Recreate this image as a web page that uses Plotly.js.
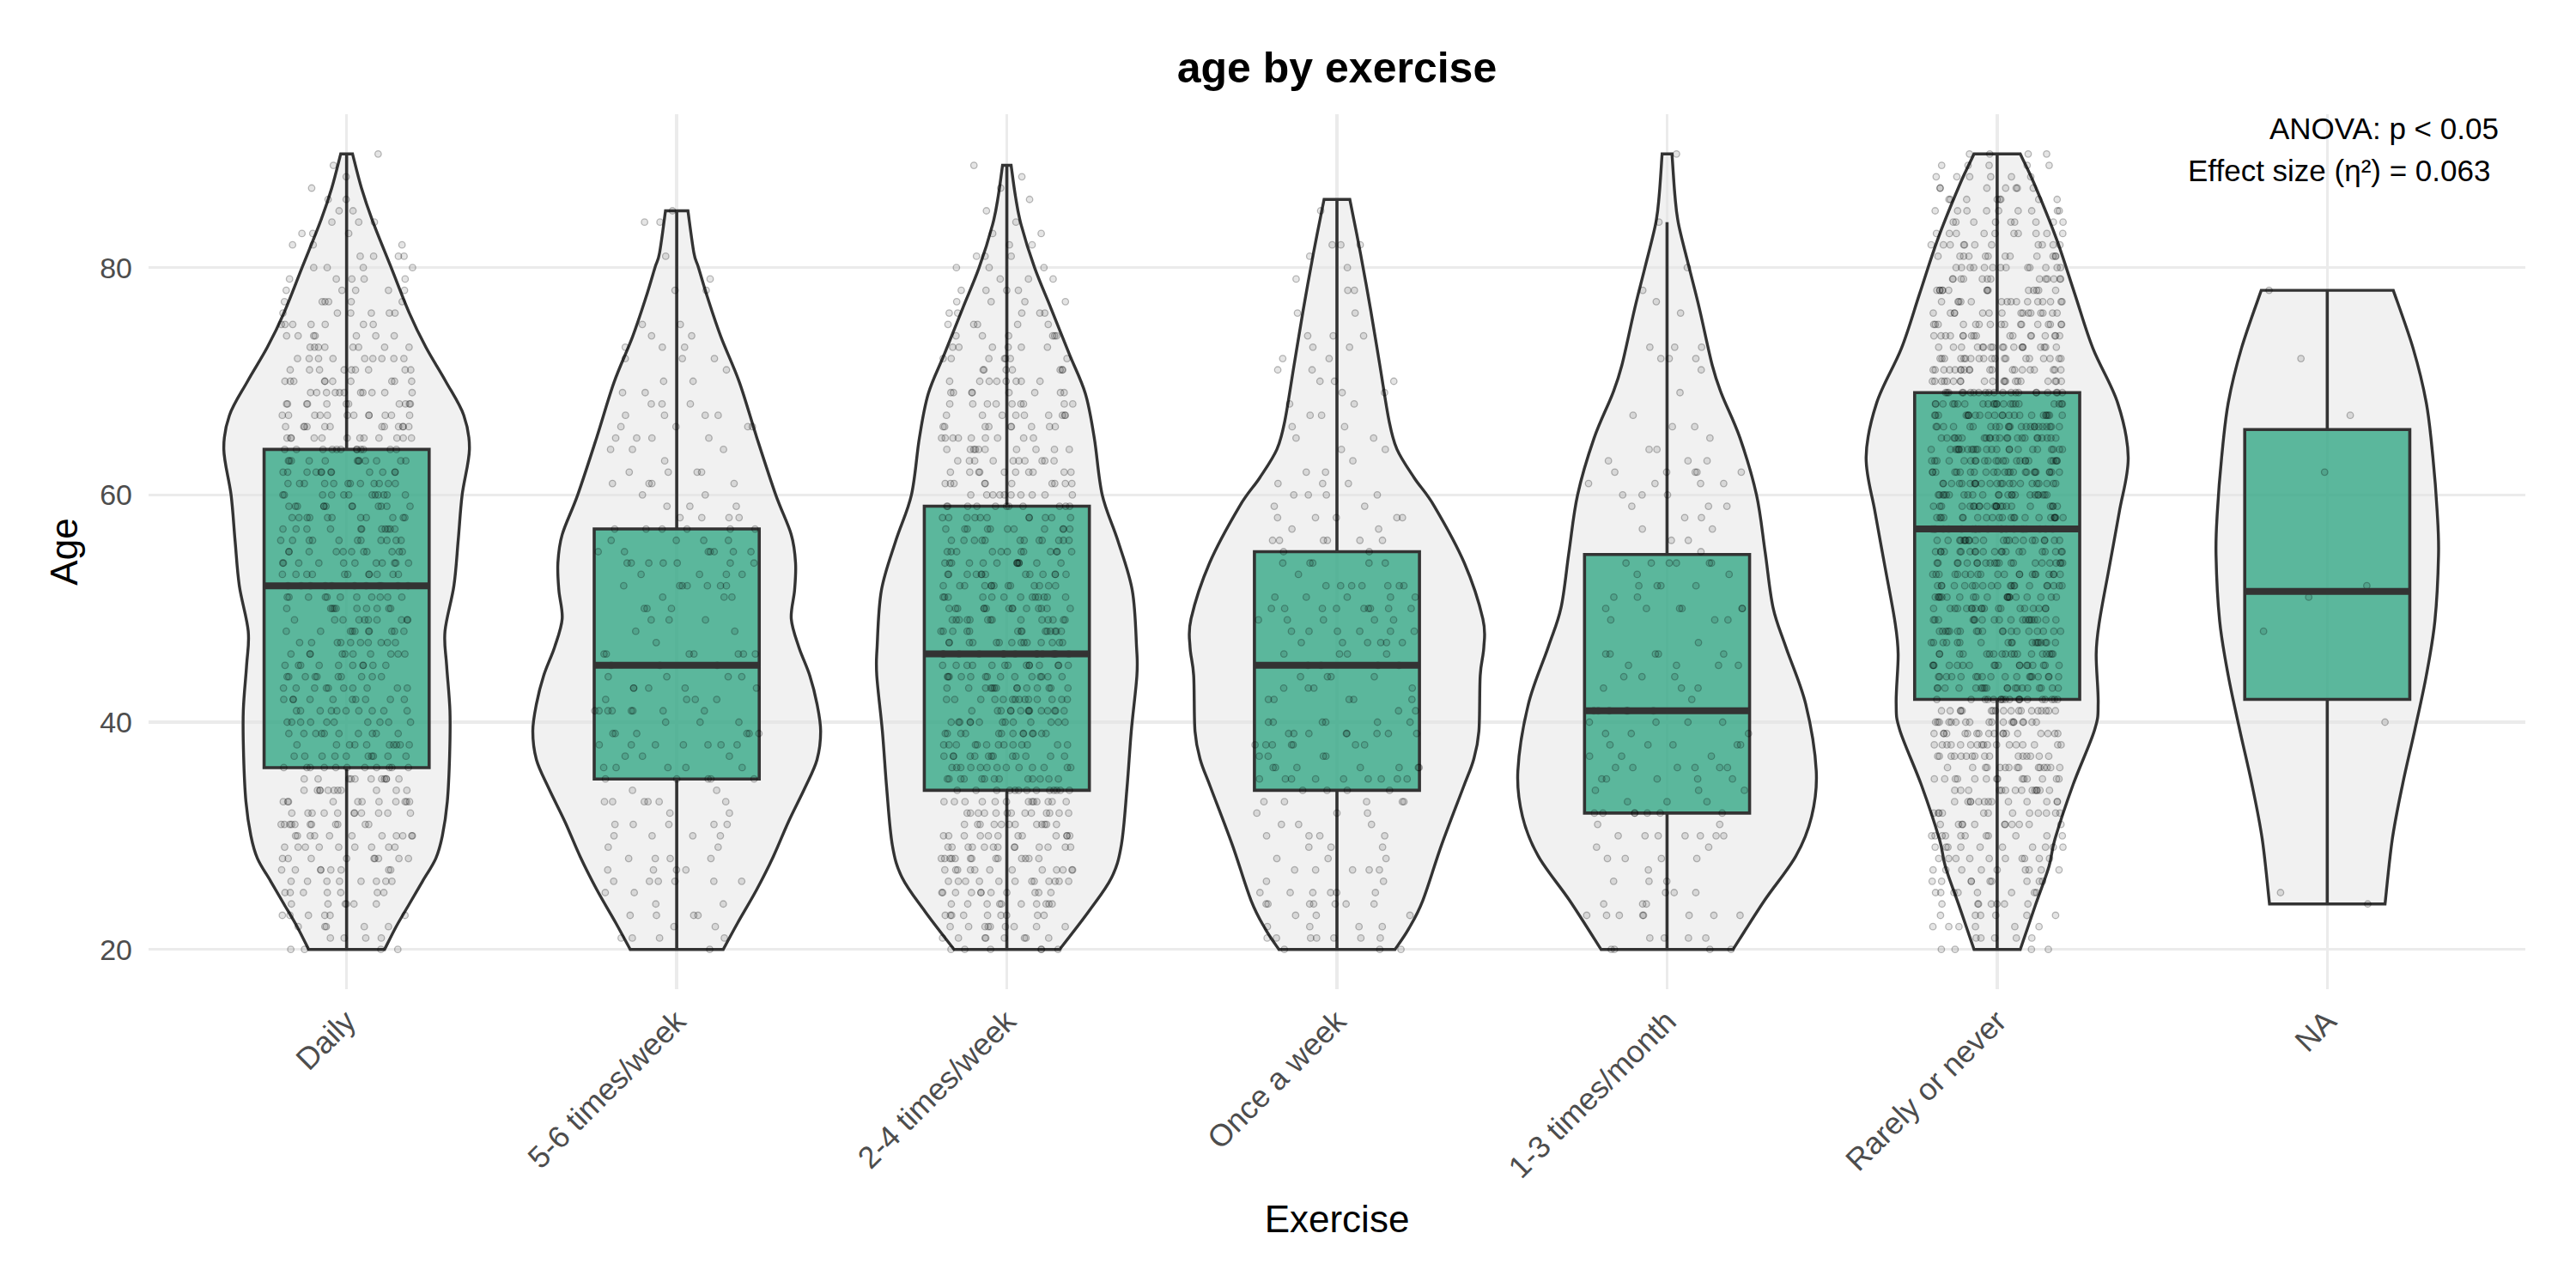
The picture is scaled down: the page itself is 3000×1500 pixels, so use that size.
<!DOCTYPE html>
<html>
<head>
<meta charset="utf-8">
<script src="https://cdn.plot.ly/plotly-3.0.1.min.js"></script>
<style>html,body{margin:0;padding:0;background:#fff;}#chart{width:3000px;height:1500px;}</style>
</head>
<body>
<div id="chart"></div>
<script>
// ---------- data ----------
const categories = ["Daily", "5-6 times/week", "2-4 times/week", "Once a week", "1-3 times/month", "Rarely or never", "NA"];

// box statistics per category (age)
const lowerWhisker = [20, 20, 20, 20, 20, 20, 24];
const q1Values     = [36, 35, 34, 34, 32, 42, 42];
const medianValues = [52, 45, 46, 45, 41, 57, 51.5];
const q3Values     = [64, 57, 59, 55, 54.75, 69, 65.75];
const upperWhisker = [90, 85, 89, 86, 84, 90, 78];

// violin outlines: ages and half-widths (in category units)
const violinAgesDaily = [20, 22, 24, 26, 28, 30, 33, 37, 41, 45, 48, 52, 56, 60, 64, 67, 70, 73, 76, 80, 84, 87, 90];
const violinHalfDaily = [0.115, 0.15, 0.19, 0.23, 0.27, 0.29, 0.305, 0.312, 0.313, 0.303, 0.298, 0.325, 0.338, 0.35, 0.372, 0.355, 0.3, 0.24, 0.19, 0.135, 0.08, 0.045, 0.018];
const violinAges56 = [20, 22.3, 25.3, 28.2, 31.2, 34.2, 36.7, 39.2, 41.6, 44.1, 46.6, 49.1, 51.6, 54, 56.5, 60, 65, 69.9, 73.9, 77.4, 80, 81.3, 85];
const violinHalf56 = [0.141, 0.184, 0.243, 0.293, 0.338, 0.388, 0.425, 0.436, 0.425, 0.403, 0.37, 0.347, 0.357, 0.36, 0.347, 0.3, 0.243, 0.19, 0.134, 0.093, 0.066, 0.052, 0.034];
const violinAges24 = [20, 23.3, 26.3, 29.2, 34.2, 39.2, 44.1, 46.6, 51.6, 56, 60, 65, 68.9, 72.4, 76.4, 80, 83.8, 86.3, 89];
const violinHalf24 = [0.16, 0.247, 0.317, 0.347, 0.364, 0.377, 0.394, 0.393, 0.38, 0.336, 0.289, 0.265, 0.238, 0.189, 0.134, 0.084, 0.043, 0.026, 0.013];
const violinAgesOnce = [20, 21.8, 24.3, 29.2, 34.2, 36.7, 39.2, 44.1, 46.6, 49.1, 54, 59, 61.5, 64, 66.5, 71.4, 76.3, 81.3, 86];
const violinHalfOnce = [0.176, 0.217, 0.26, 0.317, 0.382, 0.414, 0.43, 0.434, 0.445, 0.442, 0.386, 0.295, 0.234, 0.182, 0.158, 0.13, 0.102, 0.071, 0.039];
const violinAges13 = [20, 24.3, 28.2, 31.7, 35.7, 41.6, 46.6, 50.1, 55, 60, 65, 68.9, 71.4, 76.4, 80, 83.8, 86.3, 90];
const violinHalf13 = [0.2, 0.295, 0.39, 0.438, 0.452, 0.42, 0.36, 0.321, 0.297, 0.271, 0.221, 0.165, 0.137, 0.098, 0.067, 0.035, 0.024, 0.015];
const violinAgesRarely = [20, 23.9, 27.3, 29.7, 34.5, 39.3, 41.7, 46, 48.9, 53.7, 58.5, 63.3, 68.1, 72.9, 77.7, 82.5, 87.4, 90];
const violinHalfRarely = [0.07, 0.116, 0.157, 0.175, 0.23, 0.295, 0.306, 0.3, 0.31, 0.34, 0.37, 0.397, 0.365, 0.29, 0.235, 0.18, 0.112, 0.07];
const violinAgesNA = [24, 29.7, 34.5, 39.3, 44.1, 48.9, 54.7, 58.5, 63.3, 68.1, 72.9, 78];
const violinHalfNA = [0.175, 0.197, 0.228, 0.265, 0.3, 0.326, 0.337, 0.333, 0.32, 0.3, 0.26, 0.2];

// dense groups: estimated number of respondents at each age (20..90), read from point density
const countAges = [20,21,22,23,24,25,26,27,28,29,30,31,32,33,34,35,36,37,38,39,40,41,42,43,44,45,46,47,48,49,50,51,52,53,54,55,56,57,58,59,60,61,62,63,64,65,66,67,68,69,70,71,72,73,74,75,76,77,78,79,80,81,82,83,84,85,86,87,88,89,90];
const countsDaily  = [4,4,5,6,6,7,8,8,9,9, 11,11,11,11,11,11,11,10,10,10, 10,10,10,10,10,10,10,10,10,10, 10,11,11,11,11,11,11,11,11,12, 12,12,12,12,12,12,12,12,11,11, 10,9,9,8,7,7,6,6,5,5, 4,4,3,3,3,2,2,1,1,1,1];
const counts24     = [6,8,9,9,10,11,12,12,13,13, 12,12,13,13,13,13,13,13,13,13, 13,14,14,14,14,14,14,14,14,14, 14,13,13,13,13,12,12,11,11,11, 10,10,10,10,10,9,9,9,9,8, 8,7,7,6,6,5,5,4,4,3, 3,3,2,2,1,1,1,1,1,1,0];
const countsRarely = [4,5,6,6,7,8,9,9,10,10, 11,11,12,13,14,14,15,16,17,18, 18,18,19,19,18,18,18,18,19,19, 19,20,20,20,21,21,22,22,22,23, 23,23,24,24,24,23,23,23,22,21, 20,20,19,18,17,16,15,15,14,13, 13,12,11,10,9,9,8,7,6,5,4];

// individual ages (jittered points)
const ages56 = [85,84,84,81,79,78,78,75,75,74,74,73,73,73,72,72,71,72,70,70,69,69,68,67,67,67,68,68,67,66,66,65,65,65,65,66,66,64,64,64,63,62,62,62,61,62,61,61,61,60,60,59,59,58,58,58,59,58,
57,57,57,57,57,57,56,55,55,55,55,56,56,56,55,54,54,54,55,54,54,55,54,54,53,53,53,52,52,52,52,52,53,52,51,52,51,51,50,50,50,49,49,49,48,48,47,46,46,46,46,46,46,46,
44,45,45,45,44,44,43,43,44,43,43,43,42,42,42,42,41,41,41,41,41,41,41,41,40,40,40,39,39,39,39,38,39,39,38,38,38,38,38,37,37,37,38,36,36,36,36,36,35,35,35,35,35,
33,33,34,33,33,34,33,33,32,31,31,31,31,32,31,30,30,29,30,30,28,28,29,28,28,27,27,27,27,26,26,25,26,26,26,26,25,24,24,23,22,22,23,23,23,21,20,21,21,21];
const agesOnce = [85,82,82,82,81,80,79,78,76,76,78,74,74,74,73,72,72,71,73,71,70,70,70,69,69,68,67,67,68,66,65,66,64,64,65,63,62,62,61,61,60,60,60,60,61,59,58,58,58,59,57,58,58,56,56,56,56,56,56,57,55,55,
54,54,54,54,54,53,52,52,52,52,52,52,51,51,51,52,51,51,50,50,49,50,50,50,50,50,50,49,50,48,49,49,49,48,47,48,48,48,48,47,47,47,47,47,46,46,46,45,45,46,45,45,44,44,43,44,43,44,43,42,42,42,42,43,42,41,41,40,40,40,40,40,40,39,39,39,39,39,39,38,39,39,38,38,38,38,37,38,37,38,37,37,36,36,36,36,36,36,36,35,35,35,35,35,35,35,35,35,34,
33,34,33,34,34,33,33,32,32,32,33,31,31,31,30,30,30,30,29,29,28,27,29,28,28,27,27,27,27,26,26,25,25,25,25,25,25,24,23,24,24,24,24,23,24,24,23,22,22,22,22,21,21,21,21,21,21,21,20,20,20];
const ages13 = [90,84,80,77,78,76,73,73,73,72,72,72,71,69,67,66,65,66,64,64,62,62,62,61,61,63,62,63,63,62,61,61,60,60,60,59,59,59,58,58,57,57,56,56,55,
54,54,54,54,54,54,53,53,52,52,52,52,51,51,50,50,50,50,50,49,49,50,49,47,46,45,45,46,46,46,46,44,44,45,45,43,44,43,43,42,
41,41,41,41,41,41,40,40,40,40,39,39,39,38,37,38,38,38,38,37,37,36,36,36,36,36,36,35,35,35,35,34,34,35,34,33,33,33,32,32,32,32,32,32,31,31,32,30,30,30,30,30,30,30,29,28,28,29,28,28,27,26,26,26,25,25,25,24,24,23,24,23,23,23,23,23,23,23,21,21,21,21,20,20,20,20];
const agesNA = [78,72,67,62,52,51,48,40,25,24];

const annotationLines = ["ANOVA: p < 0.05", "Effect size (\u03b7\u00b2) = 0.063"];

// ---------- build ----------
function expandCounts(counts) {
  const out = [];
  counts.forEach((c, k) => { for (let j = 0; j < c; j++) out.push(countAges[k]); });
  return out;
}
const violinAges = [violinAgesDaily, violinAges56, violinAges24, violinAgesOnce, violinAges13, violinAgesRarely, violinAgesNA];
const violinHalf = [violinHalfDaily, violinHalf56, violinHalf24, violinHalfOnce, violinHalf13, violinHalfRarely, violinHalfNA];
const pointAges = [expandCounts(countsDaily), ages56, expandCounts(counts24), agesOnce, ages13, expandCounts(countsRarely), agesNA];
const jitterAmount = [0.8, 1.0, 0.8, 1.0, 1.0, 0.8, 1.0];
const positions = categories.map((c, i) => i + 1);

function smoothSide(pts) {
  let d = '';
  for (let k = 0; k < pts.length - 1; k++) {
    const p0 = pts[Math.max(k - 1, 0)], p1 = pts[k], p2 = pts[k + 1], p3 = pts[Math.min(k + 2, pts.length - 1)];
    const c1 = [p1[0] + (p2[0] - p0[0]) / 6, p1[1] + (p2[1] - p0[1]) / 6];
    const c2 = [p2[0] - (p3[0] - p1[0]) / 6, p2[1] - (p3[1] - p1[1]) / 6];
    d += ' C ' + c1[0].toFixed(5) + ',' + c1[1].toFixed(4) + ' ' + c2[0].toFixed(5) + ',' + c2[1].toFixed(4) + ' ' + p2[0].toFixed(5) + ',' + p2[1].toFixed(4);
  }
  return d;
}

const shapes = violinAges.map((ages, i) => {
  const pos = positions[i];
  const right = ages.map((a, k) => [pos + violinHalf[i][k], a]);
  const left = ages.map((a, k) => [pos - violinHalf[i][k], a]).reverse();
  const path = 'M ' + right[0][0].toFixed(5) + ',' + right[0][1] + smoothSide(right) +
    ' L ' + left[0][0].toFixed(5) + ',' + left[0][1] + smoothSide(left) + ' Z';
  return {
    type: 'path', xref: 'x', yref: 'y', path: path, layer: 'between',
    fillcolor: 'rgba(229,229,229,0.52)', line: { color: '#333333', width: 3.4 }
  };
});

const traces = [];
traces.push({
  type: 'box', x: positions, q1: q1Values, median: medianValues, q3: q3Values,
  lowerfence: lowerWhisker, upperfence: upperWhisker, width: 0.5,
  boxpoints: false, whiskerwidth: 0,
  fillcolor: 'rgba(27,158,119,0.7)', line: { color: '#333333', width: 3.6 },
  hoverinfo: 'skip', showlegend: false
});
pointAges.forEach((ages, i) => {
  if (!ages.length) return;
  traces.push({
    type: 'box', x0: positions[i], y: ages, width: 0.5,
    boxpoints: 'all', jitter: jitterAmount[i], pointpos: 0,
    fillcolor: 'rgba(0,0,0,0)', line: { color: 'rgba(0,0,0,0)', width: 0 }, whiskerwidth: 0,
    marker: { size: 7.5, color: 'rgba(0,0,0,0.1)', line: { color: 'rgba(0,0,0,0.26)', width: 1.3 } },
    hoverinfo: 'y', showlegend: false
  });
});
// thick median lines
positions.forEach((p, i) => {
  traces.push({
    type: 'scatter', mode: 'lines', x: [p - 0.25, p + 0.25], y: [medianValues[i], medianValues[i]],
    line: { color: '#333333', width: 8 }, hoverinfo: 'skip', showlegend: false
  });
});

const font = 'Liberation Sans, Arial, Helvetica, sans-serif';
const layout = {
  width: 3000, height: 1500,
  margin: { l: 173, r: 59, t: 133, b: 348 },
  paper_bgcolor: '#ffffff', plot_bgcolor: '#ffffff',
  showlegend: false, boxmode: 'overlay',
  font: { family: font, color: '#000000' },
  title: {
    text: '<b>age by exercise</b>', font: { family: font, size: 50, color: '#000000' },
    x: 0.5, xref: 'paper', xanchor: 'center', y: 1 - 78 / 1500, yref: 'container', yanchor: 'middle'
  },
  xaxis: {
    range: [0.4, 7.6], tickmode: 'array', tickvals: positions, ticktext: categories,
    tickangle: -45, tickfont: { family: font, size: 36, color: '#4D4D4D' }, ticklabelstandoff: 8,
    showgrid: true, gridcolor: '#EBEBEB', gridwidth: 3.5, zeroline: false, showline: false, ticks: '',
    title: { text: 'Exercise', font: { family: font, size: 44, color: '#000000' }, standoff: 25 },
    automargin: false
  },
  yaxis: {
    range: [16.5, 93.5], tickmode: 'array', tickvals: [20, 40, 60, 80],
    tickfont: { family: font, size: 34, color: '#4D4D4D' }, ticklabelstandoff: 18,
    showgrid: true, gridcolor: '#EBEBEB', gridwidth: 3.5, zeroline: false, showline: false, ticks: '',
    title: { text: 'Age', font: { family: font, size: 44, color: '#000000' }, standoff: 11 },
    automargin: false
  },
  shapes: shapes,
  annotations: [
    { text: annotationLines[0], xref: 'paper', yref: 'paper', x: (2912 - 173) / 2768, y: 1 - (149 - 133) / 1019,
      xanchor: 'right', yanchor: 'middle', showarrow: false, font: { family: font, size: 35, color: '#000000' } },
    { text: annotationLines[1], xref: 'paper', yref: 'paper', x: (2902 - 173) / 2768, y: 1 - (199 - 133) / 1019,
      xanchor: 'right', yanchor: 'middle', showarrow: false, font: { family: font, size: 35, color: '#000000' } }
  ]
};

Plotly.newPlot('chart', traces, layout, { staticPlot: true, displayModeBar: false });
</script>
</body>
</html>
